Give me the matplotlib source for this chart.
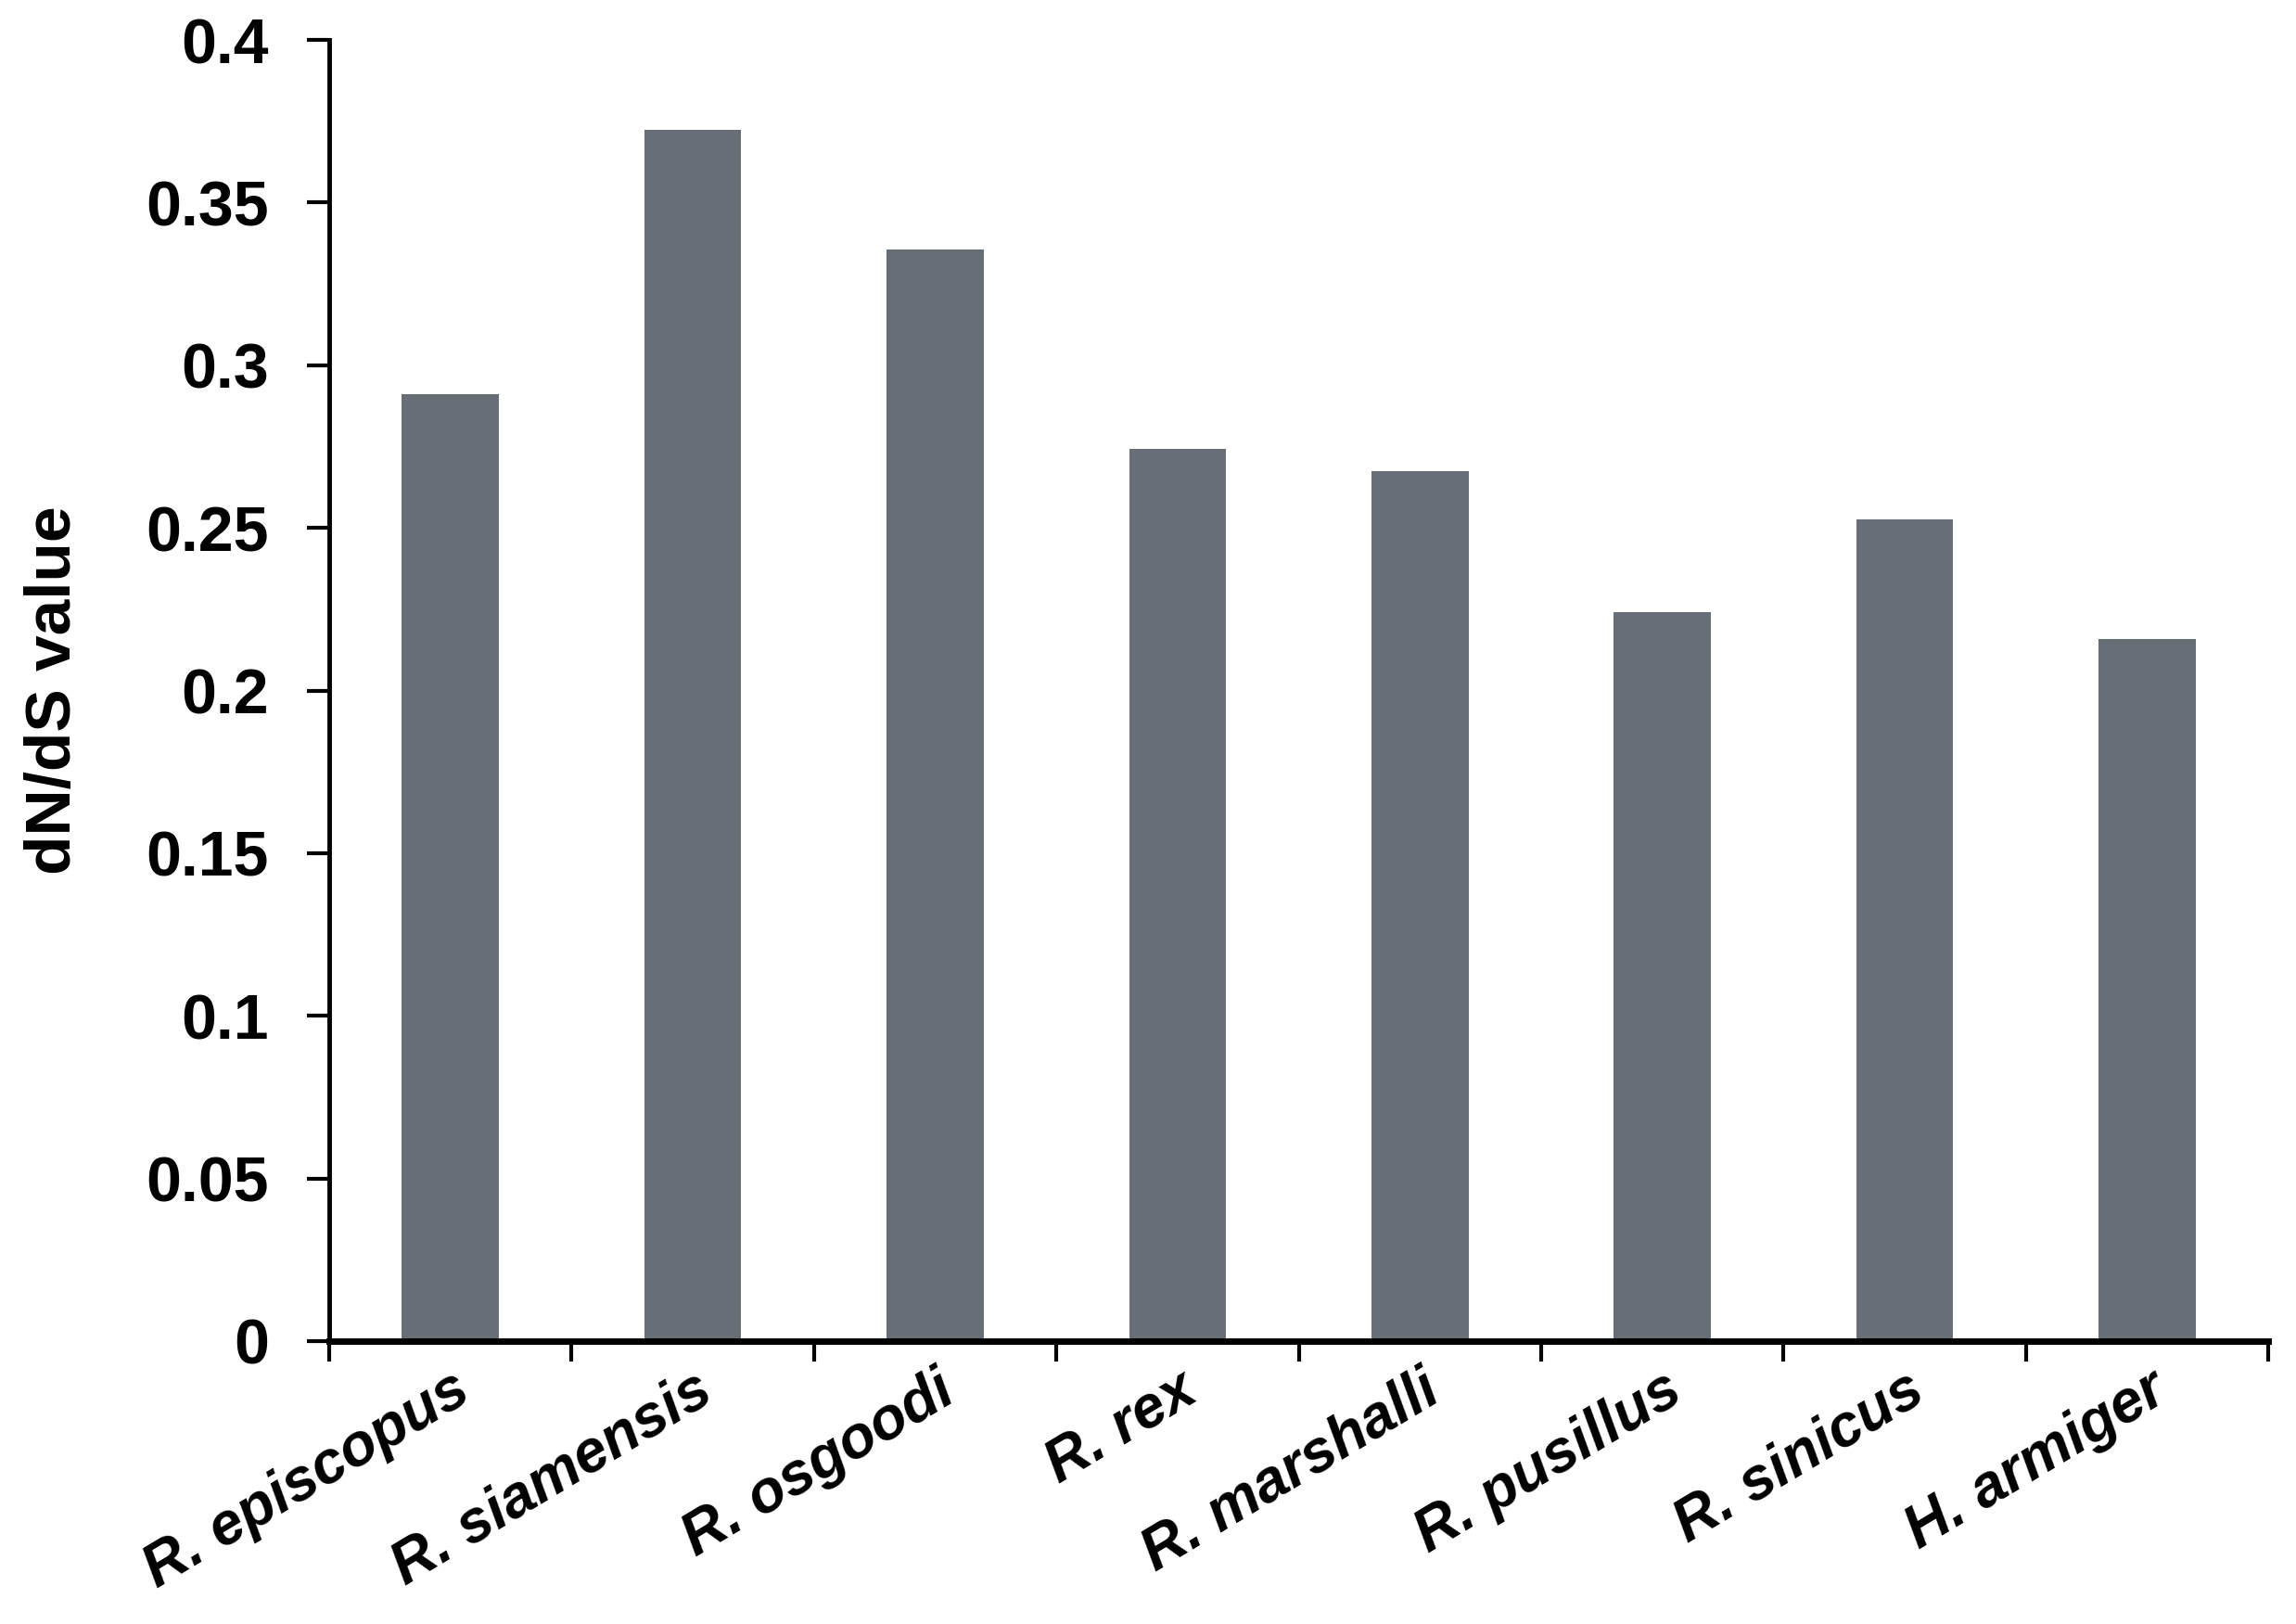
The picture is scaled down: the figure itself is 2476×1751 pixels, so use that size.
import matplotlib
matplotlib.use("Agg")
import matplotlib.pyplot as plt
import numpy as np

species = ["R. episcopus", "R. siamensis", "R. osgoodi", "R. rex",
           "R. marshalli", "R. pusillus", "R. sinicus", "H. armiger"]
dnds = [0.291, 0.3725, 0.3357, 0.2742, 0.2674, 0.2242, 0.2525, 0.2158]
yticks = [0, 0.05, 0.1, 0.15, 0.2, 0.25, 0.3, 0.35, 0.4]
ytick_labels = ["0", "0.05", "0.1", "0.15", "0.2", "0.25", "0.3", "0.35", "0.4"]

plt.rcParams['font.family'] = ['Liberation Sans', 'DejaVu Sans']

fig = plt.figure(figsize=(24.76, 17.51), dpi=100)
ax = fig.add_axes([0.1434, 0.1742, 0.8446, 0.8012])

x = np.arange(len(species))
ax.bar(x, dnds, width=0.4, color='#686e75', zorder=2)

ax.set_xlim(-0.5, len(species) - 0.5)
ax.set_ylim(0, 0.4)

# y axis
ax.set_yticks(yticks)
ax.set_yticklabels(ytick_labels, fontsize=49, fontweight='bold')
ax.tick_params(axis='y', direction='out', length=17, width=3, pad=30)
ax.set_ylabel("dN/dS value", fontsize=50, fontweight='bold', labelpad=48)

# x axis: ticks between categories, labels at centres
ax.set_xticks(np.arange(-0.5, len(species), 1.0))
ax.set_xticklabels([])
ax.tick_params(axis='x', direction='out', length=16, width=3)
ax.set_xticks(x, minor=True)
ax.set_xticklabels(species, minor=True, rotation=31, ha='right',
                   rotation_mode='anchor', fontsize=46,
                   fontweight='bold', fontstyle='italic')
ax.tick_params(axis='x', which='minor', length=0, pad=16)

ax.spines['top'].set_visible(False)
ax.spines['right'].set_visible(False)
ax.spines['left'].set_linewidth(3.5)
ax.spines['bottom'].set_linewidth(5)

fig.savefig("out.png", dpi=100)
